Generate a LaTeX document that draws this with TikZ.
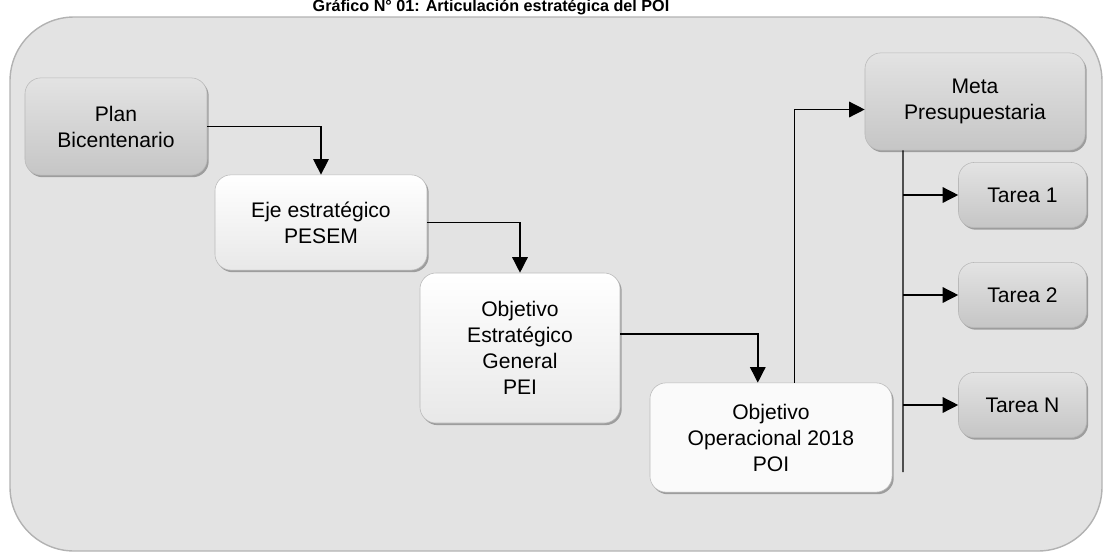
\documentclass[tikz,border=0pt]{standalone}
\usepackage{fontspec}
\setmainfont{Liberation Sans}
\usetikzlibrary{arrows.meta, shadows}

\begin{document}
\begin{tikzpicture}[
        x=0.025cm, y=-0.025cm,
        every node/.style={font=\fontsize{15}{18.5}\selectfont},
        box/.style={rectangle, rounded corners=0.4cm, draw=gray!55, align=center, inner sep=2pt,
            drop shadow={shadow xshift=1.2pt, shadow yshift=-1.5pt, fill=black!65}},
        dark/.style={box, top color=gray!22, bottom color=gray!45},
        light/.style={box, top color=white, bottom color=gray!18},
        arrow/.style={-{Triangle[length=11pt, width=11pt]}, line width=1pt}
        ]

        \useasboundingbox (0,0) rectangle (1107,554);
        \draw[draw=gray!60, line width=1pt, fill=gray!22, rounded corners=1.6cm] (10,17) rectangle (1102,551);
        \node[font=\bfseries\fontsize{11.5}{13}\selectfont] (title) at (491,7) {Gráfico N° 01: Articulación estratégica del POI};

        \node[dark, minimum width=4.55cm, minimum height=2.43cm] (plan) at (116,126.5) {Plan\\Bicentenario};
        \node[light, minimum width=5.3cm, minimum height=2.38cm] (eje) at (321,222.5) {Eje estratégico\\PESEM};
        \node[light, minimum width=5cm, minimum height=3.75cm] (pei) at (520,348) {Objetivo\\Estratégico\\General\\PEI};
        \node[box, fill=white!96!gray, minimum width=6.05cm, minimum height=2.73cm] (poi) at (771,437.5) {Objetivo\\Operacional 2018\\POI};
        \node[dark, minimum width=5.5cm, minimum height=2.43cm] (meta) at (975,101.5) {Meta\\Presupuestaria};
        \node[dark, minimum width=3.2cm, minimum height=1.63cm] (tarea1) at (1022.5,195) {Tarea 1};
        \node[dark, minimum width=3.2cm, minimum height=1.63cm] (tarea2) at (1022.5,295) {Tarea 2};
        \node[dark, minimum width=3.2cm, minimum height=1.63cm] (tarean) at (1022.5,405) {Tarea N};
        \coordinate (trunk) at (903,472);

        \draw[arrow] (plan.east) -| (eje.north);
        \draw[arrow] (eje.east) -| (pei.north);
        \draw[arrow] ([yshift=0.35cm]pei.east) -| ([xshift=-0.33cm]poi.north);
        \draw[arrow] ([xshift=0.58cm]poi.north) |- ([yshift=-0.2cm]meta.west);
        \draw[line width=1pt] ([xshift=-1.8cm]meta.south) -- (trunk);
        \draw[arrow] (trunk |- tarea1.west) -- (tarea1.west);
        \draw[arrow] (trunk |- tarea2.west) -- (tarea2.west);
        \draw[arrow] (trunk |- tarean.west) -- (tarean.west);

    \end{tikzpicture}
\end{document}
